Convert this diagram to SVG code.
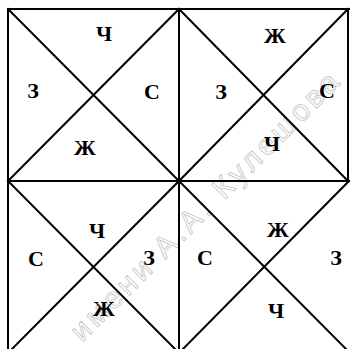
<svg xmlns="http://www.w3.org/2000/svg" width="351" height="349" viewBox="0 0 351 349">
<style>
.ln{stroke:#000;stroke-width:2;fill:none;stroke-linecap:square}
.lt{font-family:"Liberation Serif","DejaVu Serif",serif;font-weight:bold;font-size:22px;fill:#000;text-anchor:middle}
.wm{font-family:"Liberation Sans","DejaVu Sans",sans-serif;font-size:30px;fill:none;stroke:#c4c4c4;stroke-width:0.8}
</style>
<rect width="351" height="349" fill="#fff"/>
<text class="wm" transform="translate(82,343) rotate(-45)" textLength="366" lengthAdjust="spacing">имени А.А. Кулешова</text>
<g id="connectors">
<line class="ln" x1="8" y1="9" x2="349" y2="9"/>
<line class="ln" x1="8" y1="181" x2="349" y2="181"/>
<line class="ln" x1="8" y1="9" x2="8" y2="353"/>
<line class="ln" x1="179" y1="9" x2="179" y2="353"/>
<line class="ln" x1="348" y1="9" x2="348" y2="181"/>
</g>
<g id="sq-tl">
<line class="ln" x1="8" y1="9" x2="179" y2="181"/>
<line class="ln" x1="179" y1="9" x2="8" y2="181"/>
<text class="lt" x="104" y="41">Ч</text>
<text class="lt" x="33" y="98">З</text>
<text class="lt" x="152" y="99">С</text>
<text class="lt" x="85" y="155">Ж</text>
</g>
<g id="sq-tr">
<line class="ln" x1="179" y1="9" x2="348" y2="181"/>
<line class="ln" x1="348" y1="9" x2="179" y2="181"/>
<text class="lt" x="275" y="43">Ж</text>
<text class="lt" x="221" y="99">З</text>
<text class="lt" x="327" y="98">С</text>
<text class="lt" x="272" y="151">Ч</text>
</g>
<g id="sq-bl">
<line class="ln" x1="8" y1="181" x2="179" y2="353"/>
<line class="ln" x1="179" y1="181" x2="8" y2="353"/>
<text class="lt" x="97" y="238">Ч</text>
<text class="lt" x="36" y="266">С</text>
<text class="lt" x="149" y="265">З</text>
<text class="lt" x="104" y="316">Ж</text>
</g>
<g id="sq-br">
<line class="ln" x1="179" y1="181" x2="350" y2="353"/>
<line class="ln" x1="349" y1="181" x2="179" y2="353"/>
<text class="lt" x="278" y="237">Ж</text>
<text class="lt" x="205" y="265">С</text>
<text class="lt" x="336" y="265">З</text>
<text class="lt" x="276" y="318">Ч</text>
</g>
</svg>
